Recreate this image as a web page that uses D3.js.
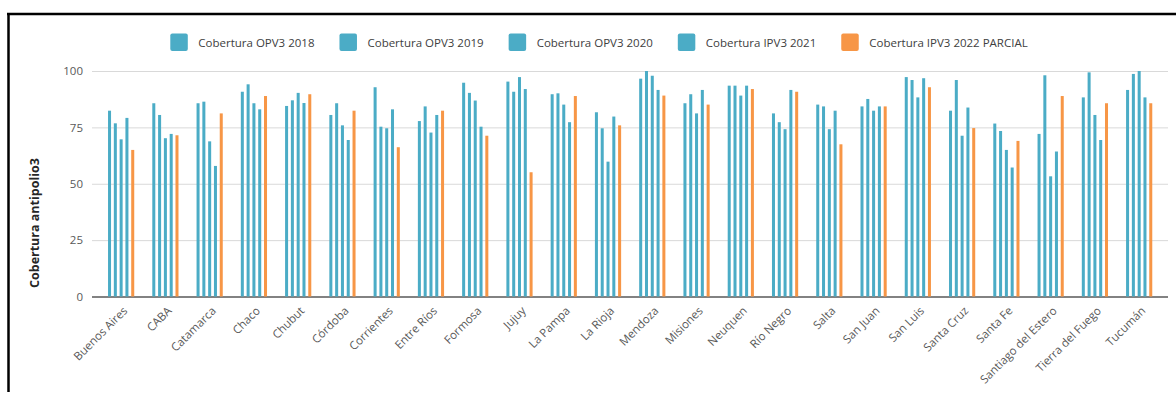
<!DOCTYPE html>
<html>
<head>
<meta charset="utf-8">
<script src="https://cdn.jsdelivr.net/npm/d3@7"></script>
<style>
  html, body { margin: 0; padding: 0; background: #fff; }
  svg { display: block; font-family: "Open Sans", "Noto Sans", sans-serif; }
</style>
</head>
<body>
<svg id="chart" width="1176" height="394"></svg>
<script>
const provinces = ["Buenos Aires","CABA","Catamarca","Chaco","Chubut","Córdoba","Corrientes","Entre Ríos","Formosa","Jujuy","La Pampa","La Rioja","Mendoza","Misiones","Neuquen","Río Negro","Salta","San Juan","San Luis","Santa Cruz","Santa Fe","Santiago del Estero","Tierra del Fuego","Tucumán"];

const seriesNames = ["Cobertura OPV3 2018","Cobertura OPV3 2019","Cobertura OPV3 2020","Cobertura IPV3 2021","Cobertura IPV3 2022 PARCIAL"];
const seriesColors = ["#4bacc6","#4bacc6","#4bacc6","#4bacc6","#f79646"];

const opv2018 = [82.4,85.7,85.7,90.8,84.5,80.5,92.8,77.8,94.8,95.3,89.7,81.7,96.6,85.7,93.5,81.2,85.1,84.3,97.3,82.4,76.7,72.1,88.3,91.6];
const opv2019 = [76.8,80.5,86.4,94.1,87.0,85.7,75.3,84.3,90.3,90.8,90.1,74.6,100.0,89.7,93.5,77.3,84.3,87.6,96.0,96.0,73.4,98.1,99.4,98.7];
const opv2020 = [69.7,70.2,68.8,85.7,90.3,75.9,74.6,72.7,86.9,97.3,85.1,59.8,97.9,81.2,89.1,74.2,74.2,82.4,88.3,71.3,65.0,53.3,80.5,100.0];
const ipv2021 = [79.2,72.1,57.9,83.0,85.8,69.4,83.0,80.5,75.3,92.0,77.3,79.8,91.6,91.6,93.5,91.6,82.4,84.3,96.8,83.8,57.2,64.3,69.4,88.3];
const ipv2022 = [65.0,71.5,81.2,88.9,89.7,82.4,66.2,82.4,71.3,55.1,88.9,75.9,89.1,85.1,92.0,90.8,67.5,84.3,92.8,74.7,69.0,88.9,85.7,85.7];

const yTicks = [0,25,50,75,100];
const yLabel = "Cobertura antipolio3";

const seriesValues = [opv2018, opv2019, opv2020, ipv2021, ipv2022];
const data = provinces.map((p, i) => ({ province: p, values: seriesValues.map(s => s[i]) }));

const svg = d3.select("#chart");

// frame
svg.append("line").attr("x1", 7).attr("x2", 1176).attr("y1", 14).attr("y2", 14)
  .attr("stroke", "#000").attr("stroke-width", 2.5);
svg.append("line").attr("x1", 8.5).attr("x2", 8.5).attr("y1", 13).attr("y2", 392)
  .attr("stroke", "#000").attr("stroke-width", 2.5);

const gridLeft = 92, gridRight = 1168;
const x0 = d3.scaleBand().domain(provinces).range([99, 1161.3])
  .paddingInner(0.408).paddingOuter(0.204);
const x1 = d3.scaleBand().domain(d3.range(seriesNames.length)).range([0, x0.bandwidth()])
  .paddingInner(0.48).paddingOuter(0);
const y = d3.scaleLinear().domain([0, 100]).range([296.5, 71]);

// grid
const yAxis = d3.axisLeft(y).tickValues(yTicks).tickSize(0).tickPadding(0);
const gy = svg.append("g").attr("transform", `translate(${gridLeft},0)`).call(yAxis);
gy.select(".domain").remove();
gy.selectAll(".tick text").attr("x", -9).attr("fill", "#595959")
  .style("font-size", "11.5px").style("font-family", "'Open Sans', sans-serif");
gy.selectAll(".tick line").attr("x2", gridRight - gridLeft)
  .attr("stroke", d => d === 0 ? "#595959" : "#d9d9d9")
  .attr("stroke-width", d => d === 0 ? 1.5 : 1);

// bars
const groups = svg.append("g").selectAll("g").data(data).join("g")
  .attr("transform", d => `translate(${x0(d.province)},0)`);
groups.selectAll("rect").data(d => d.values.map((v, k) => ({ k, v }))).join("rect")
  .attr("x", d => x1(d.k))
  .attr("width", x1.bandwidth())
  .attr("y", d => y(d.v))
  .attr("height", d => y(0) - y(d.v))
  .attr("fill", d => seriesColors[d.k]);

// x labels
const xAxis = d3.axisBottom(x0).tickSize(0);
const gx = svg.append("g").attr("transform", `translate(0,${y(0)})`).call(xAxis);
gx.select(".domain").remove();
gx.selectAll(".tick text")
  .attr("fill", "#595959")
  .style("font-size", "11.5px").style("font-family", "'Open Sans', sans-serif")
  .attr("text-anchor", "end")
  .attr("dy", null)
  .attr("y", 0)
  .attr("transform", "translate(7,15) rotate(-45)");

// y label
svg.append("text")
  .attr("transform", "translate(39,223) rotate(-90)")
  .attr("text-anchor", "middle")
  .attr("fill", "#262626")
  .style("font-size", "12.5px").style("font-weight", "bold")
  .text(yLabel);

// legend
const legend = svg.append("g");
let lx = 0;
const items = [];
seriesNames.forEach((name, k) => {
  const g = legend.append("g").attr("transform", `translate(${lx},0)`);
  g.append("rect").attr("x", 0).attr("y", 33.5).attr("width", 17.5).attr("height", 17.5)
    .attr("rx", 2).attr("fill", seriesColors[k]);
  const t = g.append("text").attr("x", 28).attr("y", 46.5).attr("fill", "#404040")
    .style("font-size", "11.5px").text(name);
  const w = t.node().getComputedTextLength();
  lx += 28 + w + 25;
});
const totalW = lx - 25;
legend.attr("transform", `translate(${599 - totalW / 2},0)`);
</script>
</body>
</html>
